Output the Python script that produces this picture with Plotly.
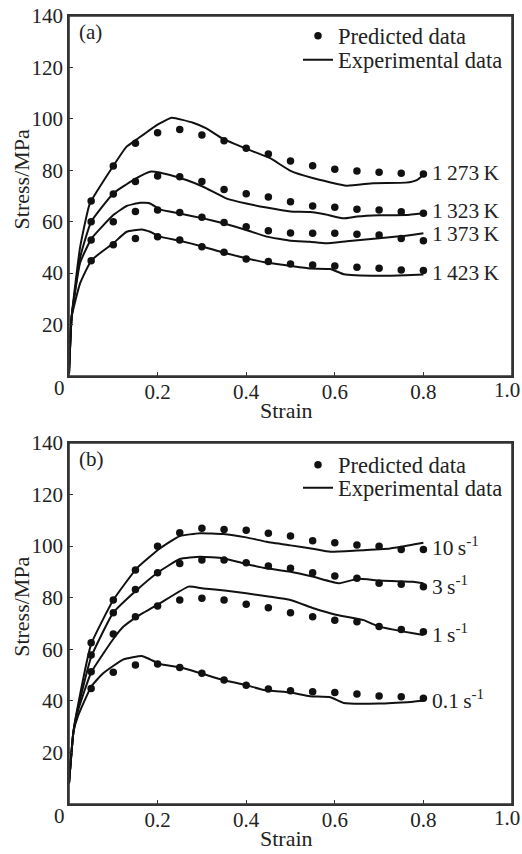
import plotly.graph_objects as go

# ---------------- data ----------------
PRED_STRAIN = [0.05, 0.10, 0.15, 0.20, 0.25, 0.30, 0.35, 0.40,
               0.45, 0.50, 0.55, 0.60, 0.65, 0.70, 0.75, 0.80]

# panel (a): temperatures
A_LABELS = ["1\u2009273\u2009K", "1\u2009323\u2009K", "1\u2009373\u2009K", "1\u2009423\u2009K"]
A_LABEL_Y = [79.0, 64.2, 55.2, 40.0]

A_PRED_1273 = [68.1, 81.7, 90.5, 94.6, 95.9, 93.7, 91.5, 88.6, 86.3, 83.6, 81.8, 80.4, 79.7, 79.2, 78.8, 78.6]
A_PRED_1323 = [60.0, 70.8, 75.6, 77.8, 77.5, 75.6, 72.5, 70.9, 69.6, 67.8, 66.1, 65.6, 64.8, 64.6, 63.9, 63.3]
A_PRED_1373 = [52.9, 60.0, 64.0, 64.6, 63.6, 61.7, 59.7, 58.0, 56.5, 55.6, 55.5, 55.5, 55.1, 54.8, 53.5, 52.6]
A_PRED_1423 = [44.8, 51.0, 53.5, 54.2, 52.9, 50.3, 48.1, 45.5, 44.5, 43.6, 43.2, 42.8, 42.3, 41.9, 41.2, 41.0]

A_EXP_1273_X = [0, 0.006, 0.025, 0.047, 0.10, 0.13, 0.153, 0.198, 0.232, 0.28, 0.31, 0.348, 0.40, 0.454, 0.50, 0.55, 0.627, 0.687, 0.76, 0.785, 0.80]
A_EXP_1273_Y = [1, 23, 50, 67, 81.7, 89.2, 92.0, 97.6, 100.4, 98.5, 96.3, 92.2, 88.4, 84.7, 79.8, 77.0, 74.0, 75.0, 75.2, 76.2, 78.2]
A_EXP_1323_X = [0, 0.006, 0.025, 0.05, 0.10, 0.145, 0.185, 0.228, 0.265, 0.303, 0.356, 0.40, 0.446, 0.50, 0.544, 0.58, 0.62, 0.65, 0.70, 0.76, 0.80]
A_EXP_1323_Y = [1, 23, 46, 60, 71.0, 76.2, 79.5, 78.2, 76.2, 73.6, 69.0, 67.1, 65.5, 64.0, 63.8, 62.8, 61.3, 62.0, 62.5, 62.6, 63.3]
A_EXP_1373_X = [0, 0.006, 0.025, 0.051, 0.10, 0.13, 0.16, 0.183, 0.205, 0.25, 0.303, 0.348, 0.40, 0.446, 0.50, 0.544, 0.58, 0.627, 0.70, 0.76, 0.80]
A_EXP_1373_Y = [1, 23, 44, 53.5, 62.6, 66.1, 67.4, 67.1, 64.8, 63.2, 61.3, 59.4, 56.8, 54.2, 52.6, 52.2, 51.6, 52.4, 53.6, 54.5, 55.5]
A_EXP_1423_X = [0, 0.006, 0.025, 0.051, 0.10, 0.13, 0.164, 0.183, 0.205, 0.25, 0.303, 0.348, 0.40, 0.446, 0.50, 0.544, 0.59, 0.62, 0.70, 0.76, 0.80]
A_EXP_1423_Y = [1, 23, 36, 45.1, 51.6, 56.1, 57.0, 56.1, 54.2, 52.6, 50.3, 48.0, 45.8, 44.1, 42.8, 41.8, 41.6, 39.6, 39.0, 39.2, 39.5]

# panel (b): strain rates
B_LABELS = ["10\u2009s<sup>-1</sup>", "3\u2009s<sup>-1</sup>", "1\u2009s<sup>-1</sup>", "0.1\u2009s<sup>-1</sup>"]
B_LABEL_Y = [99.7, 84.9, 66.3, 40.7]

B_PRED_10 = [62.5, 79.1, 90.7, 100.0, 105.2, 106.9, 106.5, 106.2, 105.0, 103.9, 102.1, 101.3, 100.4, 100.0, 98.7, 98.7]
B_PRED_3 = [57.8, 74.2, 83.2, 89.7, 93.3, 94.6, 94.6, 93.6, 92.3, 91.4, 89.7, 88.4, 87.5, 85.6, 85.2, 84.3]
B_PRED_1 = [51.3, 65.9, 72.6, 76.8, 79.1, 79.8, 79.1, 77.5, 76.1, 74.2, 72.6, 71.3, 70.7, 68.8, 67.7, 66.8]
B_PRED_01 = [44.8, 51.1, 53.9, 54.3, 52.9, 50.7, 48.1, 46.1, 44.6, 43.9, 43.5, 43.2, 42.7, 41.9, 41.6, 41.0]

B_EXP_10_X = [0, 0.01, 0.02, 0.05, 0.10, 0.153, 0.205, 0.25, 0.296, 0.348, 0.40, 0.446, 0.50, 0.55, 0.59, 0.65, 0.725, 0.777, 0.80]
B_EXP_10_Y = [8, 28, 38, 62, 79.1, 91.4, 99.1, 103.9, 105.0, 104.7, 103.4, 101.7, 100.3, 99.0, 97.8, 98.3, 99.1, 100.6, 101.3]
B_EXP_3_X = [0, 0.01, 0.02, 0.05, 0.10, 0.153, 0.20, 0.25, 0.296, 0.348, 0.40, 0.446, 0.50, 0.552, 0.61, 0.65, 0.70, 0.777, 0.80]
B_EXP_3_Y = [8, 28, 37, 57, 74.2, 83.0, 89.7, 95.0, 95.9, 95.3, 93.1, 91.4, 90.1, 88.1, 85.6, 87.3, 86.7, 86.2, 85.6]
B_EXP_1_X = [0, 0.01, 0.02, 0.05, 0.10, 0.123, 0.153, 0.205, 0.27, 0.303, 0.356, 0.40, 0.454, 0.50, 0.552, 0.60, 0.665, 0.70, 0.777, 0.80]
B_EXP_1_Y = [8, 28, 36, 51, 64.0, 68.8, 72.6, 77.8, 84.3, 83.6, 82.7, 81.7, 80.4, 79.1, 75.9, 73.5, 71.3, 68.8, 66.2, 65.5]
B_EXP_01_X = [0, 0.01, 0.02, 0.05, 0.077, 0.123, 0.164, 0.183, 0.205, 0.25, 0.303, 0.348, 0.40, 0.44, 0.50, 0.544, 0.59, 0.62, 0.70, 0.777, 0.80]
B_EXP_01_Y = [8, 28, 34, 45.5, 50.7, 56.1, 57.4, 56.1, 54.3, 53.0, 50.4, 48.1, 46.1, 44.2, 43.2, 41.8, 41.4, 39.2, 39.0, 39.7, 40.0]

X_RANGE = [0, 1]
Y_RANGE = [0, 140]
X_TICKS = [0, 0.2, 0.4, 0.6, 0.8, 1.0]
X_TICKTEXT = ["", "0.2", "0.4", "0.6", "0.8", ""]
Y_TICKS = [0, 20, 40, 60, 80, 100, 120, 140]
Y_TICKTEXT = ["", "20", "40", "60", "80", "100", "120", "140"]

# ---------------- figure ----------------
FONT = "Liberation Serif"
INK = "#111111"
FRAME = "#333333"
TXT = "#222222"

W, H = 522, 854
PX0, PX1 = 69, 512
xdom = [PX0 / W, PX1 / W]
ydom_a = [(H - 376) / H, (H - 16) / H]
ydom_b = [(H - 804) / H, (H - 443) / H]

fig = go.Figure()

panels = [
    dict(xa="x", ya="y", leg_pred="legend", leg_exp="legend2", leg_y=(38, 62), ydom=ydom_a,
         preds=[A_PRED_1273, A_PRED_1323, A_PRED_1373, A_PRED_1423],
         exps=[(A_EXP_1273_X, A_EXP_1273_Y), (A_EXP_1323_X, A_EXP_1323_Y),
               (A_EXP_1373_X, A_EXP_1373_Y), (A_EXP_1423_X, A_EXP_1423_Y)],
         labels=A_LABELS, label_y=A_LABEL_Y, tag="(a)"),
    dict(xa="x2", ya="y2", leg_pred="legend3", leg_exp="legend4", leg_y=(465, 488), ydom=ydom_b,
         preds=[B_PRED_10, B_PRED_3, B_PRED_1, B_PRED_01],
         exps=[(B_EXP_10_X, B_EXP_10_Y), (B_EXP_3_X, B_EXP_3_Y),
               (B_EXP_1_X, B_EXP_1_Y), (B_EXP_01_X, B_EXP_01_Y)],
         labels=B_LABELS, label_y=B_LABEL_Y, tag="(b)"),
]

for p in panels:
    for i, (ex, ey) in enumerate(p["exps"]):
        fig.add_trace(go.Scatter(
            x=ex, y=ey, mode="lines", xaxis=p["xa"], yaxis=p["ya"],
            line=dict(color=INK, width=2.0, shape="spline", smoothing=0.4),
            name="Experimental data", legend=p["leg_exp"],
            showlegend=(i == 0)))
    for i, py in enumerate(p["preds"]):
        fig.add_trace(go.Scatter(
            x=PRED_STRAIN, y=py, mode="markers", xaxis=p["xa"], yaxis=p["ya"],
            marker=dict(color=INK, size=7.5, symbol="circle"),
            name="Predicted data", legend=p["leg_pred"],
            showlegend=(i == 0)))

tickfont = dict(family=FONT, size=21, color=TXT)
axis_common = dict(range=X_RANGE, showgrid=False, zeroline=False, automargin=False,
                   showline=True, linecolor=FRAME, linewidth=1.5, mirror=True,
                   ticks="inside", ticklen=4, tickwidth=1.2, tickcolor=FRAME,
                   tickvals=X_TICKS, ticktext=X_TICKTEXT, tickfont=tickfont,
                   ticklabelstandoff=-4, ticklabeloverflow="allow")
yaxis_common = dict(range=Y_RANGE, showgrid=False, zeroline=False, automargin=False,
                    showline=True, linecolor=FRAME, linewidth=1.5, mirror=True,
                    ticks="inside", ticklen=4, tickwidth=1.2, tickcolor=FRAME,
                    tickvals=Y_TICKS, ticktext=Y_TICKTEXT, tickfont=tickfont,
                    ticklabeloverflow="allow")

legend_common = dict(bgcolor="rgba(0,0,0,0)", borderwidth=0,
                     font=dict(family=FONT, size=22.5, color=TXT),
                     xanchor="left", yanchor="middle", itemwidth=30)
LEG_X = (338 - 40) / W

fig.update_layout(
    width=W, height=H,
    margin=dict(l=0, r=0, t=0, b=0, pad=0, autoexpand=False),
    paper_bgcolor="white", plot_bgcolor="rgba(0,0,0,0)",
    font=dict(family=FONT, size=21, color=TXT),
    xaxis=dict(axis_common, domain=xdom, anchor="y"),
    yaxis=dict(yaxis_common, domain=ydom_a, anchor="x"),
    xaxis2=dict(axis_common, domain=xdom, anchor="y2"),
    yaxis2=dict(yaxis_common, domain=ydom_b, anchor="x2"),
    legend=dict(legend_common, x=LEG_X, y=(H - panels[0]["leg_y"][0] + 2) / H),
    legend2=dict(legend_common, x=LEG_X, y=(H - panels[0]["leg_y"][1] + 2) / H),
    legend3=dict(legend_common, x=LEG_X, y=(H - panels[1]["leg_y"][0]) / H),
    legend4=dict(legend_common, x=LEG_X, y=(H - panels[1]["leg_y"][1]) / H),
    hovermode=False,
)

# panel frames on paper coordinates (not clipped by the subplot area)
shapes = []
for p in panels:
    shapes.append(dict(type="rect", xref="paper", yref="paper",
                       x0=xdom[0], x1=xdom[1], y0=p["ydom"][0], y1=p["ydom"][1],
                       line=dict(color=FRAME, width=1.6), fillcolor="rgba(0,0,0,0)",
                       layer="above"))
fig.update_layout(shapes=shapes)

annotations = []
for p in panels:
    xa, ya = p["xa"], p["ya"]
    xd = xa + " domain"
    yd = ya + " domain"
    for lab, ly in zip(p["labels"], p["label_y"]):
        annotations.append(dict(x=0.815, y=ly, xref=xa, yref=ya, text=lab,
                                showarrow=False, xanchor="left", yanchor="middle",
                                font=dict(family=FONT, size=21.5, color=TXT)))
    annotations.append(dict(x=0.017, y=0.955, xref=xd, yref=yd, text=p["tag"],
                            showarrow=False, xanchor="left", yanchor="middle",
                            font=dict(family=FONT, size=21, color=TXT)))
    annotations.append(dict(x=-0.005, y=0, xref=xd, yref=yd, text="0",
                            showarrow=False, xanchor="right", yanchor="top",
                            yshift=2,
                            font=dict(family=FONT, size=21, color=TXT)))
    annotations.append(dict(x=1.0, y=0, xref=xa, yref=yd, text="1.0",
                            showarrow=False, xanchor="right", yanchor="top",
                            xshift=10, yshift=0,
                            font=dict(family=FONT, size=21, color=TXT)))
    annotations.append(dict(x=-0.107, y=0.545, xref=xd, yref=yd, text="Stress/MPa",
                            showarrow=False, textangle=-90,
                            xanchor="center", yanchor="middle",
                            font=dict(family=FONT, size=22, color=TXT)))
    annotations.append(dict(x=0.49, y=-0.095, xref=xd, yref=yd, text="Strain",
                            showarrow=False, xanchor="center", yanchor="middle",
                            font=dict(family=FONT, size=22, color=TXT)))
fig.update_layout(annotations=annotations)

fig.write_html("out.html", config={"displayModeBar": False},
               post_script="document.body.style.margin='0';")
